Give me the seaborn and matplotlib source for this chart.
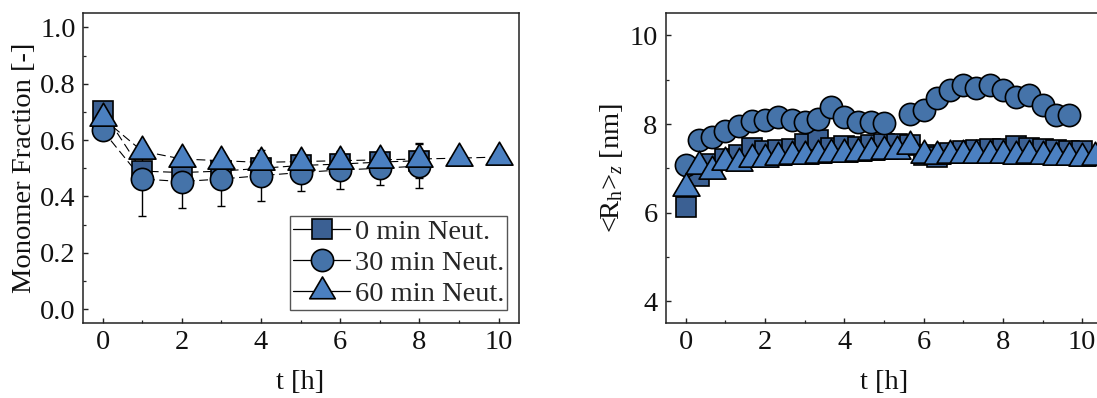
import numpy as np
import pandas as pd
import matplotlib
matplotlib.use("Agg")
import matplotlib.pyplot as plt
from matplotlib.path import Path
from matplotlib.lines import Line2D
from matplotlib.ticker import MultipleLocator
import seaborn as sns

# ---------------- data: left panel (monomer fraction) ----------------
t_left = [0, 1, 2, 3, 4, 5, 6, 7, 8]
t_left60 = [0, 1, 2, 3, 4, 5, 6, 7, 8, 9, 10]
mono_0 = [0.705, 0.490, 0.485, 0.490, 0.500, 0.510, 0.515, 0.522, 0.527]
mono_0_err = [0.02, 0.03, 0.03, 0.03, 0.03, 0.03, 0.03, 0.03, 0.063]
mono_30 = [0.635, 0.462, 0.453, 0.462, 0.474, 0.485, 0.494, 0.500, 0.508]
mono_30_err = [0.012, 0.130, 0.094, 0.097, 0.090, 0.064, 0.068, 0.061, 0.079]
mono_60 = [0.678, 0.561, 0.533, 0.527, 0.521, 0.524, 0.527, 0.530, 0.533, 0.536, 0.540]

# ---------------- data: right panel (<Rh>z) ----------------
t_rh0 = [k / 3 for k in range(31)]
rh_0 = [6.13, 6.82, 7.10, 7.22, 7.30, 7.45, 7.40, 7.42, 7.44, 7.54, 7.63, 7.45,
        7.50, 7.48, 7.52, 7.55, 7.56, 7.52, 7.30, 7.26, 7.35, 7.40, 7.42, 7.44,
        7.44, 7.50, 7.46, 7.44, 7.42, 7.40, 7.38]
t_rh30 = [k / 3 for k in range(16)] + [k / 3 for k in range(17, 30)]
rh_30 = [7.07, 7.64, 7.70, 7.85, 7.96, 8.06, 8.09, 8.15, 8.09, 8.04, 8.11, 8.39,
         8.16, 8.04, 8.04, 8.02,
         8.22, 8.31, 8.59, 8.76, 8.89, 8.82, 8.87, 8.76, 8.61, 8.65, 8.44, 8.21, 8.21]
t_rh60 = [k / 3 for k in range(32)]
rh_60 = [6.56, 7.05, 6.95, 7.15, 7.12, 7.20, 7.22, 7.25, 7.27, 7.28, 7.30, 7.32,
         7.33, 7.35, 7.36, 7.38, 7.39, 7.50, 7.30, 7.28, 7.30, 7.29, 7.30, 7.31,
         7.30, 7.28, 7.29, 7.27, 7.26, 7.25, 7.24, 7.26]

labels = ["0 min Neut.", "30 min Neut.", "60 min Neut."]
colors = ["#3b6093", "#4573a9", "#4b80c1"]

# ---------------- style ----------------
FS = 20.5
sns.set_theme(style="ticks")
plt.rcParams.update({
    "font.family": ["Liberation Serif", "DejaVu Serif"],
    "mathtext.fontset": "custom",
    "mathtext.rm": "Liberation Serif",
    "mathtext.it": "Liberation Serif:italic",
    "font.size": FS,
    "axes.labelsize": FS,
    "xtick.labelsize": FS,
    "ytick.labelsize": FS,
    "legend.fontsize": FS,
    "axes.linewidth": 1.1,
    "axes.edgecolor": "#222222",
    "xtick.direction": "in",
    "ytick.direction": "in",
    "xtick.major.size": 3.6,
    "ytick.major.size": 3.6,
    "xtick.minor.size": 2.2,
    "ytick.minor.size": 2.2,
    "xtick.major.width": 1.0,
    "ytick.major.width": 1.0,
    "xtick.minor.width": 0.9,
    "ytick.minor.width": 0.9,
    "xtick.color": "#222222",
    "ytick.color": "#222222",
    "xtick.labelcolor": "#111111",
    "ytick.labelcolor": "#111111",
    "axes.labelcolor": "#111111",
    "xtick.major.pad": 4.5,
    "ytick.major.pad": 5.0,
})

tri = Path([(0, 1), (-0.88, -0.5), (0.88, -0.5), (0, 1)],
           [Path.MOVETO, Path.LINETO, Path.LINETO, Path.CLOSEPOLY])
markers = ["s", "o", tri]
msizes = [14.5, 16.0, 22.0]
dash = (0, (8, 4))
mew = 1.2

W, H = 1097, 398
fig = plt.figure(figsize=(W / 100, H / 100), dpi=100)
ax1 = fig.add_axes([82.7 / W, (H - 323.3) / H, (518.5 - 82.7) / W, 310 / H])
ax2 = fig.add_axes([666 / W, (H - 323.3) / H, (1102 - 666) / W, 310 / H])

# ---------------- left panel ----------------
left_sets = [(t_left, mono_0, mono_0_err), (t_left, mono_30, mono_30_err), (t_left60, mono_60, None)]
for i, (tx, vy, err) in enumerate(left_sets):
    df = pd.DataFrame({"t": tx, "v": vy})
    sns.lineplot(data=df, x="t", y="v", ax=ax1, color="black", lw=0.8,
                 linestyle=dash, zorder=1, sort=False)
    if err is not None:
        ax1.errorbar(tx, vy, yerr=err, fmt="none", ecolor="black", elinewidth=1.0,
                     capsize=2.8, capthick=1.0, zorder=2)
for i, (tx, vy, err) in enumerate(left_sets):
    df = pd.DataFrame({"t": tx, "v": vy})
    sns.lineplot(data=df, x="t", y="v", ax=ax1, linestyle="none",
                 marker=markers[i], markersize=msizes[i], markerfacecolor=colors[i],
                 markeredgecolor="black", markeredgewidth=mew, zorder=3 + i, sort=False)

ax1.set_xlim(-0.5, 10.5)
ax1.set_ylim(-0.05, 1.05)
ax1.xaxis.set_major_locator(MultipleLocator(2))
ax1.xaxis.set_minor_locator(MultipleLocator(1))
ax1.yaxis.set_major_locator(MultipleLocator(0.2))
ax1.yaxis.set_minor_locator(MultipleLocator(0.1))
ax1.yaxis.set_major_formatter(matplotlib.ticker.FormatStrFormatter("%.1f"))
ax1.tick_params(which="both", top=False, right=False)
ax1.set_xlabel("t [h]", labelpad=11)
ax1.set_ylabel("Monomer Fraction [-]", labelpad=2)

handles = [Line2D([], [], color="black", lw=0.9, linestyle="-",
                  marker=markers[i], markersize=msizes[i] * (0.95 if i == 2 else 1.0),
                  markerfacecolor=colors[i], markeredgecolor="black", markeredgewidth=mew)
           for i in range(3)]
leg = ax1.legend(handles, labels, loc="lower right", bbox_to_anchor=(0.973, 0.043),
                 borderaxespad=0, frameon=True, fancybox=False, edgecolor="#555555",
                 framealpha=1, handlelength=2.0, handletextpad=0.15, borderpad=0.1,
                 labelspacing=0.18, fontsize=FS)
leg.get_frame().set_linewidth(1.0)

# ---------------- right panel ----------------
right_sets = [(t_rh0, rh_0), (t_rh30, rh_30), (t_rh60, rh_60)]
for i, (tx, vy) in enumerate(right_sets):
    df = pd.DataFrame({"t": tx, "v": vy})
    sns.lineplot(data=df, x="t", y="v", ax=ax2, linestyle="none",
                 marker=markers[i], markersize=msizes[i], markerfacecolor=colors[i],
                 markeredgecolor="black", markeredgewidth=mew, zorder=3 + i, sort=False)

ax2.set_xlim(-0.5, 10.5)
ax2.set_ylim(3.5, 10.5)
ax2.xaxis.set_major_locator(MultipleLocator(2))
ax2.xaxis.set_minor_locator(MultipleLocator(1))
ax2.yaxis.set_major_locator(MultipleLocator(2))
ax2.yaxis.set_minor_locator(MultipleLocator(1))
ax2.tick_params(which="both", top=False, right=False)
ax2.tick_params(axis="y", pad=6.0)
ax2.set_xlabel("t [h]", labelpad=11)
ax2.set_ylabel(r"<R$_{\mathrm{h}}$>$_{z}$ [nm]", labelpad=3)

fig.savefig("out.png", dpi=100)
